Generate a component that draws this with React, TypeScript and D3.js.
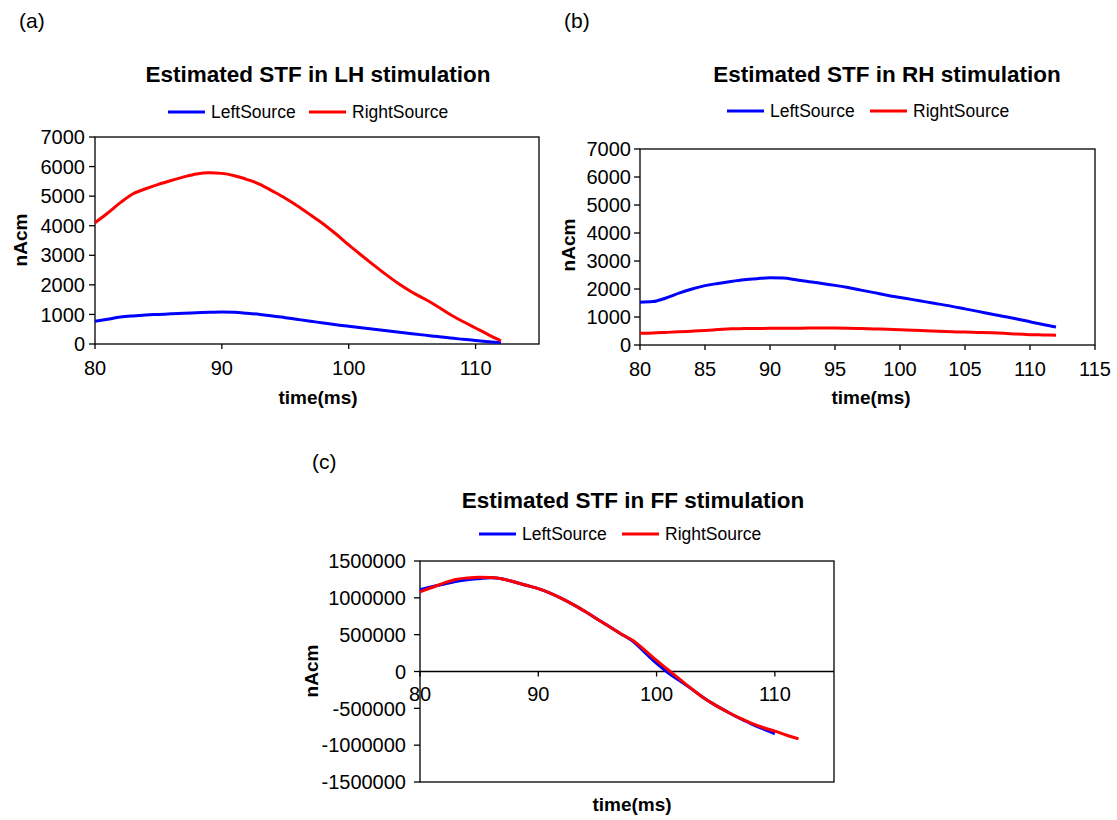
import React from "react";
import * as d3 from "d3";

// ---------- DATA ----------
const times = [80, 81, 82, 83, 84, 85, 86, 87, 88, 89, 90, 91, 92, 93, 94, 95, 96, 97, 98, 99, 100, 101, 102, 103, 104, 105, 106, 107, 108, 109, 110, 111, 112];

// (a) LH stimulation
const lhLeft = [770, 840, 910, 950, 980, 1000, 1020, 1040, 1055, 1070, 1080, 1075, 1040, 1000, 950, 890, 830, 770, 710, 650, 600, 550, 500, 450, 400, 350, 300, 250, 200, 160, 120, 80, 40];
const lhRight = [4100, 4430, 4780, 5080, 5250, 5400, 5530, 5650, 5750, 5790, 5770, 5690, 5560, 5400, 5170, 4930, 4660, 4360, 4060, 3720, 3350, 3000, 2660, 2330, 2020, 1750, 1520, 1270, 1000, 760, 540, 320, 110];

// (b) RH stimulation
const rhLeft = [1530, 1550, 1680, 1850, 2000, 2120, 2200, 2270, 2330, 2370, 2400, 2390, 2330, 2260, 2200, 2130, 2050, 1960, 1870, 1780, 1700, 1620, 1540, 1460, 1380, 1290, 1200, 1110, 1020, 930, 830, 730, 640];
const rhRight = [420, 430, 450, 470, 495, 520, 550, 580, 585, 590, 595, 595, 600, 605, 605, 605, 600, 590, 575, 560, 545, 530, 510, 490, 475, 460, 450, 440, 420, 390, 370, 360, 350];

// (c) FF stimulation
const ffLeftTimes = [80, 81, 82, 83, 84, 85, 86, 87, 88, 89, 90, 91, 92, 93, 94, 95, 96, 97, 98, 99, 100, 101, 102, 103, 104, 105, 106, 107, 108, 109, 110];
const ffLeft = [1110000, 1150000, 1185000, 1220000, 1245000, 1260000, 1272000, 1255000, 1215000, 1170000, 1125000, 1065000, 990000, 905000, 810000, 710000, 610000, 510000, 410000, 260000, 110000, -20000, -130000, -240000, -360000, -460000, -550000, -635000, -710000, -780000, -845000];
const ffRight = [1080000, 1140000, 1200000, 1250000, 1270000, 1280000, 1275000, 1255000, 1215000, 1170000, 1125000, 1065000, 990000, 905000, 810000, 710000, 610000, 510000, 420000, 290000, 150000, 20000, -110000, -240000, -360000, -460000, -550000, -630000, -700000, -760000, -810000, -865000, -915000];

const lhYTicks = [0, 1000, 2000, 3000, 4000, 5000, 6000, 7000];
const lhXTicks = [80, 90, 100, 110];
const rhXTicks = [80, 85, 90, 95, 100, 105, 110, 115];
const ffYTicks = [-1500000, -1000000, -500000, 0, 500000, 1000000, 1500000];
const ffXTicks = [80, 90, 100, 110];

const seriesNames = ["LeftSource", "RightSource"];
const seriesColors = ["#0000ff", "#ff0000"];

const FONT = "'Liberation Sans', Arial, Helvetica, sans-serif";

type Series = { t: number[]; v: number[] };

type PanelProps = {
  left: number; right: number; top: number; bottom: number;
  yDomain: [number, number];
  yTicks: number[];
  xTicks: number[];
  series: Series[];
  title: string; titleX: number; titleY: number;
  legendX: number; legendY: number; legendGap: number;
  label: string; labelX: number; labelY: number;
  xTitleX: number; xTitleY: number;
  yTitleX: number; yTitleY: number;
  zeroAxis?: boolean;
  xLabelOffset: number;
  yLabelGap: number;
};

function Panel(p: PanelProps) {
  const x = d3.scaleLinear().domain([80, 115]).range([p.left, p.right]);
  const y = d3.scaleLinear().domain(p.yDomain).range([p.bottom, p.top]);
  const axisY = p.zeroAxis ? y(0) : p.bottom;
  const line = d3
    .line<[number, number]>()
    .x((d) => x(d[0]))
    .y((d) => y(d[1]))
    .curve(d3.curveMonotoneX);

  return (
    <g fontFamily={FONT}>
      <text x={p.labelX} y={p.labelY} fontSize={21} fill="#000">{p.label}</text>
      <text x={p.titleX} y={p.titleY} fontSize={22.5} fontWeight="bold" textAnchor="middle" fill="#000">{p.title}</text>
      {/* legend */}
      <g>
        <line x1={p.legendX} x2={p.legendX + 37} y1={p.legendY} y2={p.legendY} stroke={seriesColors[0]} strokeWidth={3} />
        <text x={p.legendX + 43} y={p.legendY} dy="0.36em" fontSize={17.5} fill="#000">{seriesNames[0]}</text>
        <line x1={p.legendX + p.legendGap} x2={p.legendX + p.legendGap + 37} y1={p.legendY} y2={p.legendY} stroke={seriesColors[1]} strokeWidth={3} />
        <text x={p.legendX + p.legendGap + 43} y={p.legendY} dy="0.36em" fontSize={17.5} fill="#000">{seriesNames[1]}</text>
      </g>
      <rect x={p.left} y={p.top} width={p.right - p.left} height={p.bottom - p.top} fill="#fff" stroke="#000" strokeWidth={1.3} />
      {p.zeroAxis && (
        <line x1={p.left} x2={p.right} y1={axisY} y2={axisY} stroke="#000" strokeWidth={1.3} />
      )}
      {p.yTicks.map((v) => (
        <g key={"y" + v}>
          <line x1={p.left - 6} x2={p.left} y1={y(v)} y2={y(v)} stroke="#000" strokeWidth={1.3} />
          <text x={p.left - p.yLabelGap} y={y(v)} dy="0.36em" textAnchor="end" fontSize={20} fill="#000">{String(v)}</text>
        </g>
      ))}
      {p.xTicks.map((v) => (
        <g key={"x" + v}>
          <line x1={x(v)} x2={x(v)} y1={axisY} y2={axisY + 5} stroke="#000" strokeWidth={1.3} />
          <text x={x(v)} y={axisY + p.xLabelOffset} textAnchor="middle" fontSize={20} fill="#000">{String(v)}</text>
        </g>
      ))}
      {p.series.map((s, i) => (
        <path
          key={"s" + i}
          d={line(s.t.map((t, j) => [t, s.v[j]] as [number, number])) || ""}
          fill="none"
          stroke={seriesColors[i]}
          strokeWidth={3}
          strokeLinejoin="round"
        />
      ))}
      <text x={p.xTitleX} y={p.xTitleY} fontSize={19} fontWeight="bold" textAnchor="middle" fill="#000">time(ms)</text>
      <text transform={`translate(${p.yTitleX},${p.yTitleY}) rotate(-90)`} fontSize={19} fontWeight="bold" textAnchor="middle" fill="#000">nAcm</text>
    </g>
  );
}

export default function App() {
  return (
    <svg width={1117} height={820} style={{ position: "absolute", left: 0, top: 0, background: "#fff" }}>
      <rect x={0} y={0} width={1117} height={820} fill="#fff" />
      <Panel
        left={95} right={539} top={137} bottom={344}
        yDomain={[0, 7000]} yTicks={lhYTicks} xTicks={lhXTicks}
        series={[{ t: times, v: lhLeft }, { t: times, v: lhRight }]}
        title="Estimated STF in LH stimulation" titleX={318} titleY={82}
        legendX={168} legendY={112} legendGap={141}
        label="(a)" labelX={19} labelY={28}
        xTitleX={318} xTitleY={404} yTitleX={27} yTitleY={240}
        xLabelOffset={31} yLabelGap={10}
      />
      <Panel
        left={640} right={1095} top={149} bottom={345}
        yDomain={[0, 7000]} yTicks={lhYTicks} xTicks={rhXTicks}
        series={[{ t: times, v: rhLeft }, { t: times, v: rhRight }]}
        title="Estimated STF in RH stimulation" titleX={887} titleY={82}
        legendX={727} legendY={111} legendGap={143}
        label="(b)" labelX={564} labelY={28}
        xTitleX={871} xTitleY={404} yTitleX={575} yTitleY={245}
        xLabelOffset={31} yLabelGap={9}
      />
      <Panel
        left={420} right={834} top={561} bottom={782}
        yDomain={[-1500000, 1500000]} yTicks={ffYTicks} xTicks={ffXTicks}
        series={[{ t: ffLeftTimes, v: ffLeft }, { t: times, v: ffRight }]}
        title="Estimated STF in FF stimulation" titleX={633} titleY={508}
        legendX={479} legendY={534} legendGap={143}
        label="(c)" labelX={312} labelY={469}
        xTitleX={632} xTitleY={811} yTitleX={318} yTitleY={671}
        zeroAxis={true}
        xLabelOffset={29} yLabelGap={14}
      />
    </svg>
  );
}
